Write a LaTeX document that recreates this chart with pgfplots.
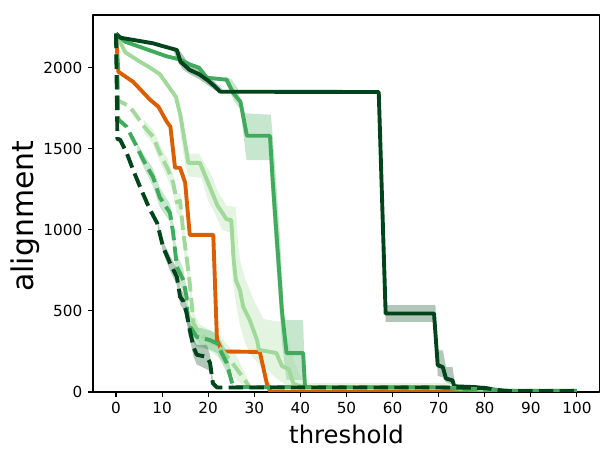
\documentclass[border=0pt]{standalone}
\usepackage{fontspec}
\setmainfont{DejaVu Sans}
\usepackage{pgfplots}
\pgfplotsset{compat=1.18}
\definecolor{cDS}{HTML}{00441B}
\definecolor{cMS}{HTML}{41AB5D}
\definecolor{cLS}{HTML}{A1D99B}
\definecolor{cOR}{HTML}{D95F02}
\begin{document}
\begin{tikzpicture}
\useasboundingbox (-66.96pt,-49.68pt) rectangle (375.84pt,282.24pt);
\begin{axis}[
  at={(0,0)}, anchor=south west,
  scale only axis, width=365pt, height=271.44pt,
  xmin=-5, xmax=105, ymin=0, ymax=2325,
  xtick={0,10,...,100}, ytick={0,500,...,2000},
  xtick pos=left, ytick pos=left,
  tick align=outside, major tick length=3.5pt,
  tick style={black, line width=0.8pt},
  axis line style={black, line width=0.8pt},
  /pgf/number format/assume math mode=true,
  /pgf/number format/1000 sep={},
  tick label style={font=\fontsize{11pt}{13pt}\selectfont, inner sep=0pt},
  yticklabel style={anchor=east, xshift=-4pt},
  xticklabel style={anchor=north, yshift=-3.7pt},
  xlabel={threshold}, ylabel={alignment},
  every axis x label/.style={at={(axis description cs:0.5,-0.136)}, anchor=base, font=\fontsize{17.5pt}{20pt}\selectfont},
  every axis y label/.style={at={(axis description cs:-0.1183,0.466)}, rotate=90, anchor=base, font=\fontsize{21.5pt}{24pt}\selectfont},
  line join=round,
]
% ---- bands ----
\addplot[draw=none, fill=cDS, fill opacity=0.3] coordinates {
(12.5,2125)(13.5,2115)(14.5,2080)(16,2010)(18,1990)(20,1950)(21.5,1910)(23,1870)
(23,1845)(21.5,1860)(20,1890)(18,1930)(16,1960)(14.5,1990)(13.5,2030)(12.5,2100)} --cycle;
\addplot[draw=none, fill=cDS, fill opacity=0.3] coordinates {
(58.5,535)(69.3,535)(69.8,257)(70.9,257)(71.6,154)(73,154)(73.6,40)
(73.6,25)(73,45)(71.6,60)(70.9,90)(69.8,100)(69.3,432)(58.5,432)} --cycle;
\addplot[draw=none, fill=cMS, fill opacity=0.3] coordinates {
(23.5,1945)(25,1930)(26.5,1870)(27.3,1720)(33.6,1710)(34.5,1400)(35.5,1000)(36.5,444)(40.6,444)(41,60)
(41,20)(40.6,74)(37,74)(36,300)(35,700)(34,1100)(33.3,1430)(28.3,1430)(27,1740)(25.5,1800)(24,1900)(23.5,1915)} --cycle;
\addplot[draw=none, fill=cLS, fill opacity=0.3] coordinates {
(13.5,1800)(14.5,1700)(15.3,1470)(18,1470)(19.5,1400)(21,1320)(22,1240)(24,1150)(26,1140)(26.5,900)(27,800)(28,700)(30,560)(32,450)(34,440)(36,430)(37.5,300)(39,160)(40.5,60)
(40.5,10)(39,20)(37,40)(35,80)(33,130)(31,170)(29.5,220)(28,300)(27,400)(26,550)(25.3,700)(25,980)(23,1000)(21.5,1100)(20,1180)(18.5,1320)(15.7,1330)(15,1400)(14,1580)(13.5,1750)} --cycle;
\addplot[draw=none, fill=cLS, fill opacity=0.3] coordinates {
(6,1680)(8,1620)(9.5,1530)(11.3,1430)(12.4,1340)(13.2,1230)(14,1220)(14.6,1050)(15.3,900)(16,750)(16.8,500)(18,420)(21,370)(23,330)(26,230)(28.4,90)(29,40)
(29,20)(28,30)(26,80)(23,190)(21,240)(18,300)(16.8,350)(16,590)(15.3,760)(14.6,900)(14,1080)(13.2,1100)(12.4,1230)(11.3,1310)(9.5,1420)(8,1530)(6,1600)} --cycle;
\addplot[draw=none, fill=cMS, fill opacity=0.3] coordinates {
(4.5,1540)(5.9,1470)(8,1380)(9.5,1260)(11.7,1160)(12.4,1050)(13.2,850)(14.6,760)(15.3,640)(15.8,500)(17.5,400)(20.4,380)(21.9,360)(24,250)(25.4,60)
(25.4,20)(24,120)(21.9,240)(20.4,260)(17.5,280)(15.6,350)(15.3,520)(14.6,620)(13.2,690)(12.4,900)(11.7,1050)(9.5,1140)(8,1270)(5.9,1390)(4.5,1480)} --cycle;
\addplot[draw=none, fill=cDS, fill opacity=0.3] coordinates {
(9,1060)(10.2,930)(11.7,840)(13.2,760)(13.9,640)(14.6,610)(15.3,530)(16,440)(16.8,330)(17.5,290)(19.7,290)(20.4,230)(21,80)(21.9,35)
(21.9,20)(21,30)(20.4,130)(19.7,140)(17.5,170)(16.8,220)(16,330)(15.3,440)(14.6,510)(13.9,540)(13.2,660)(11.7,750)(10.2,860)(9,1020)} --cycle;
\addplot[draw=none, fill=cLS, fill opacity=0.3] coordinates {
(40,55)(72,55)(80,30)(85,15)(100,12)(100,3)(85,3)(80,10)(72,10)(40,10)} --cycle;
% ---- lines ----
\addplot[cOR, line width=2.8pt] coordinates {
(0,2210)(0.5,1975)(3.7,1913)(7.4,1802)(9.2,1759)(11,1667)(11.8,1636)(12.8,1383)(13.9,1383)(15,1290)(16,969)(21.1,969)(21.9,321)(23,250)(31.2,247)(32.7,55)(33.5,0)(100,0)};
\addplot[cLS, line width=2.8pt] coordinates {
(0,2210)(2,2095)(5,2040)(7.4,2000)(9.5,1960)(11.5,1880)(13,1820)(14,1700)(14.6,1600)(15.7,1413)(18.2,1413)(19.7,1309)(21,1220)(22,1150)(24,1065)(25,1060)(25.5,820)(26,690)(26.9,627)(27.6,525)(29,445)(30.6,320)(31,260)(34.8,240)(36,160)(37.5,140)(38.5,50)(40.6,30)(70,30)(75,20)(85,8)(100,8)};
\addplot[cMS, line width=2.8pt] coordinates {
(0,2210)(2,2160)(4,2140)(8,2100)(11,2070)(14,2050)(16,2020)(18,2000)(19.7,1938)(24,1926)(25.4,1845)(27,1790)(28.4,1580)(33.4,1580)(34,1300)(35,900)(36,500)(37,240)(40.6,240)(41,30)(70,30)(72,25)(78,15)(85,5)(100,5)};
\addplot[cDS, line width=2.8pt] coordinates {
(0,2210)(0.9,2185)(4,2170)(8.1,2150)(10,2134)(13.2,2109)(14,2037)(16,1986)(18,1960)(20,1920)(21.5,1883)(22.6,1852)(57,1850)(58.5,484)(69,484)(69.8,165)(70.9,154)(71.6,83)(73,72)(73.4,35)(78,30)(82,15)(85,3)(100,3)};
\addplot[cLS, line width=2.8pt, dash pattern=on 10.4pt off 4.5pt] coordinates {
(0,2210)(0.5,1795)(1,1790)(3,1760)(6,1640)(8,1575)(9.5,1475)(11.3,1370)(12.4,1290)(13.2,1170)(13.9,1180)(14.6,980)(15.3,835)(16,670)(16.4,550)(16.8,425)(18,360)(21,300)(23,260)(26,150)(28.4,55)(29,30)(70,30)(75,20)(85,8)(100,8)};
\addplot[cMS, line width=2.8pt, dash pattern=on 10.4pt off 4.5pt] coordinates {
(0,2210)(0.5,1680)(2.3,1636)(4.5,1512)(5.9,1432)(8,1327)(9.5,1200)(11.7,1105)(12.4,980)(13.2,772)(14.6,690)(15.3,587)(15.6,425)(17.5,340)(20.4,320)(21.9,300)(24,180)(25.4,31)(70,28)(75,20)(85,8)(100,8)};
\addplot[cDS, line width=2.8pt, dash pattern=on 10.4pt off 4.5pt] coordinates {
(0,2210)(0.3,1560)(0.9,1555)(2.3,1475)(3.7,1370)(5.2,1266)(6.7,1167)(7.4,1123)(8.9,1043)(10.2,895)(11.7,796)(13.2,710)(13.9,587)(14.6,560)(15.3,488)(16,383)(16.8,278)(17.5,230)(19.7,216)(20.4,180)(21,55)(21.9,28)(72,28)(80,25)(83,12)(85,5)(100,5)};
\end{axis}
\end{tikzpicture}
\end{document}
